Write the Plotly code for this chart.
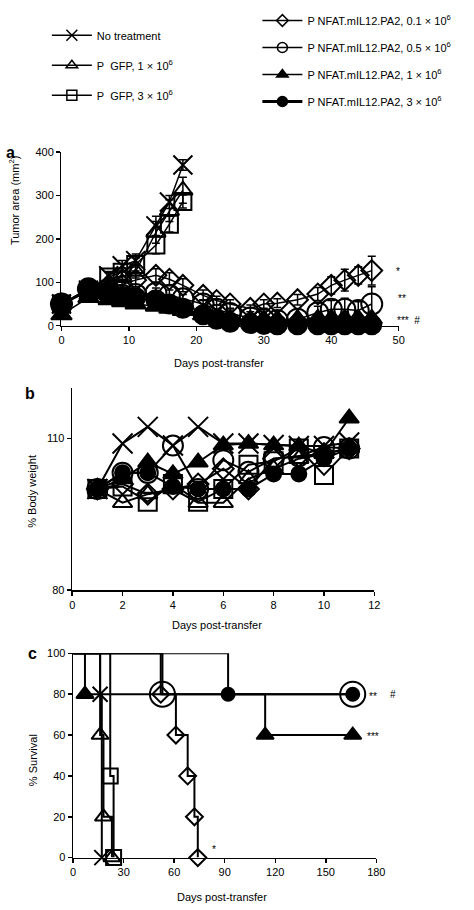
import plotly.graph_objects as go

W, H = 474, 910
FONT = "Liberation Sans, Arial, sans-serif"

# ---------------- data ----------------
series_names = [
    "No treatment",
    "P\u00a0 GFP, 1 \u00d7 10<sup>6</sup>",
    "P\u00a0 GFP, 3 \u00d7 10<sup>6</sup>",
    "P NFAT.mIL12.PA2, 0.1 \u00d7 10<sup>6</sup>",
    "P NFAT.mIL12.PA2, 0.5 \u00d7 10<sup>6</sup>",
    "P NFAT.mIL12.PA2, 1 \u00d7 10<sup>6</sup>",
    "P NFAT.mIL12.PA2, 3 \u00d7 10<sup>6</sup>",
]

# Panel a: tumor area (mm^2)
days_a = [0, 4, 7, 9, 11, 14, 16, 18, 21, 23, 25, 28, 30, 32, 35, 38, 40, 42, 44, 46]
none_a = [50, 82, 115, 138, 150, 230, 285, 370]
none_err = [5, 8, 10, 12, 15, 22, 15, 12]
gfp1_a = [48, 80, 100, 112, 125, 215, 265, 312]
gfp1_err = [5, 8, 10, 12, 15, 25, 25, 30]
gfp3_a = [50, 80, 112, 123, 141, 186, 234, 286]
gfp3_err = [5, 8, 10, 10, 15, 20, 18, 15]
n01_a = [50, 82, 85, 95, 105, 116, 107, 93, 70, 58, 50, 40, 50, 52, 60, 73, 93, 105, 116, 127]
n01_err = [5, 8, 10, 12, 15, 15, 15, 15, 12, 10, 10, 8, 10, 10, 12, 15, 20, 25, 20, 33]
n05_a = [50, 85, 75, 70, 72, 75, 70, 62, 50, 38, 28, 18, 14, 12, 15, 30, 38, 38, 35, 50]
n05_err = [5, 8, 10, 10, 10, 12, 12, 10, 10, 10, 8, 8, 6, 6, 8, 15, 20, 25, 20, 40]
n1_a = [25, 65, 60, 55, 50, 45, 40, 35, 25, 18, 15, 14, 14, 14, 15, 16, 16, 16, 16, 16]
n1_err = [5, 8, 8, 8, 8, 8, 8, 8, 6, 5, 5, 5, 5, 5, 5, 5, 5, 5, 5, 5]
n3_a = [50, 85, 72, 68, 65, 60, 50, 40, 25, 15, 8, 5, 3, 2, 2, 2, 2, 2, 2, 2]
n3_err = [5, 8, 8, 8, 8, 8, 8, 6, 5, 4, 3, 2, 2, 1, 1, 1, 1, 1, 1, 1]

# Panel b: % body weight
days_b = [1, 2, 3, 4, 5, 6, 7, 8, 9, 10, 11]
none_b = [100, 109, 112.3, 108.6, 112.3, 109, 109, 108.7, 108.5, 108.5, 109.2]
gfp1_b = [100, 97.3, 99, 100, 97.3, 97.3, 102, 104, 106, 107, 108]
gfp3_b = [100, 100.5, 97.5, 101, 97.5, 100, 104.8, 105.5, 108, 102.8, 108]
n01_b = [100, 101, 99, 100, 101, 104, 100, 106, 106.5, 107, 108]
n05_b = [100, 103.2, 103.2, 108.6, 100, 105.7, 103.4, 106, 106.5, 108.3, 108]
n1_b = [100, 102, 105.3, 103, 105.3, 108.7, 109, 108.7, 108.5, 107, 114]
n3_b = [100, 103.2, 103.2, 100.5, 100, 100, 100, 103, 103, 106, 108]

# Panel c: % survival (Kaplan-Meier steps; first point is start)
none_t, none_s = [0, 16, 17], [100, 80, 0]
gfp1_t, gfp1_s = [0, 16, 18, 23], [100, 60, 20, 0]
gfp3_t, gfp3_s = [0, 22, 24], [100, 40, 0]
n01_t, n01_s = [0, 52, 61, 68, 72, 74], [100, 80, 60, 40, 20, 0]
n05_t, n05_s = [0, 53, 166], [100, 80, 80]
n1_t, n1_s = [0, 7, 114, 166], [100, 80, 60, 60]
n3_t, n3_s = [0, 92, 166], [100, 80, 80]

# ---------------- styles ----------------
symbols = ["x-thin", "triangle-up-open", "square-open", "diamond-open",
           "circle-open", "triangle-up", "circle"]


def mk(sym, size):
    return dict(symbol=sym, size=size, color="black",
                line=dict(color="black", width=2))


fig = go.Figure()

# ---------------- panel a ----------------
a_y = [none_a, gfp1_a, gfp3_a, n01_a, n05_a, n1_a, n3_a]
a_e = [none_err, gfp1_err, gfp3_err, n01_err, n05_err, n1_err, n3_err]
a_sizes = [19, 17, 17, 16, 21, 18, 19]
for i in range(7):
    n = len(a_y[i])
    fig.add_trace(go.Scatter(
        x=days_a[:n], y=a_y[i], mode="lines+markers",
        line=dict(color="black", width=1.5),
        marker=mk(symbols[i], a_sizes[i]),
        error_y=dict(type="data", array=a_e[i], color="black", thickness=1.5, width=4),
        cliponaxis=False, showlegend=False, xaxis="x", yaxis="y"))

# ---------------- panel b ----------------
b_y = [none_b, gfp1_b, gfp3_b, n01_b, n05_b, n1_b, n3_b]
b_sizes = [20, 17, 18, 16, 20, 17, 15]
for i in range(7):
    fig.add_trace(go.Scatter(
        x=days_b, y=b_y[i], mode="lines+markers",
        line=dict(color="black", width=2),
        marker=mk(symbols[i], b_sizes[i]),
        cliponaxis=False, showlegend=False, xaxis="x2", yaxis="y2"))

# ---------------- panel c ----------------
c_t = [none_t, gfp1_t, gfp3_t, n01_t, n05_t, n1_t, n3_t]
c_s = [none_s, gfp1_s, gfp3_s, n01_s, n05_s, n1_s, n3_s]
c_sizes = [15, 15, 15, 13, 25, 15, 13]
for i in range(7):
    fig.add_trace(go.Scatter(
        x=c_t[i], y=c_s[i], mode="lines", line=dict(color="black", width=2, shape="hv"),
        cliponaxis=False, showlegend=False, xaxis="x3", yaxis="y3"))
for i in range(7):
    fig.add_trace(go.Scatter(
        x=c_t[i][1:], y=c_s[i][1:], mode="markers",
        marker=mk(symbols[i], c_sizes[i]),
        cliponaxis=False, showlegend=False, xaxis="x3", yaxis="y3"))

# ---------------- legend-only traces ----------------
leg_sizes = [11, 10, 10, 9, 10, 10, 10]
for i in range(7):
    fig.add_trace(go.Scatter(
        x=[None], y=[None], mode="lines+markers", name=series_names[i],
        line=dict(color="black", width=3 if i == 6 else 1.5),
        marker=dict(symbol=symbols[i], size=leg_sizes[i], color="black",
                    line=dict(color="black", width=1.5)),
        legend="legend" if i < 3 else "legend2",
        legendgroup=f"g{i}", xaxis="x", yaxis="y"))


def px(x):
    return x / W


def py(y):
    return 1 - y / H


axis_common = dict(showline=True, linecolor="black", linewidth=1.5, ticks="outside",
                   ticklen=4, tickwidth=1.5, tickcolor="black", showgrid=False,
                   zeroline=False, tickfont=dict(family=FONT, size=11, color="black"))

fig.update_layout(
    width=W, height=H, margin=dict(l=0, r=0, t=0, b=0),
    paper_bgcolor="white", plot_bgcolor="white",
    font=dict(family=FONT, size=11, color="black"),
    hovermode=False,
    xaxis=dict(domain=[px(60), px(406)], range=[0, 50], tickvals=[0, 10, 20, 30, 40, 50],
               anchor="y", **axis_common),
    yaxis=dict(domain=[py(324), py(148)], range=[0, 400], tickvals=[0, 100, 200, 300, 400],
               anchor="x", **axis_common),
    xaxis2=dict(domain=[px(71), px(381)], range=[0, 12], tickvals=[0, 2, 4, 6, 8, 10, 12],
                anchor="y2", **axis_common),
    yaxis2=dict(domain=[py(592), py(387)], range=[80, 120], tickvals=[80, 110],
                anchor="x2", **axis_common),
    xaxis3=dict(domain=[px(72), px(383)], range=[0, 180], tickvals=[0, 30, 60, 90, 120, 150, 180],
                anchor="y3", **axis_common),
    yaxis3=dict(domain=[py(863), py(656)], range=[0, 100], tickvals=[0, 20, 40, 60, 80, 100],
                anchor="x3", **axis_common),
    legend=dict(x=px(45), y=py(15), xanchor="left", yanchor="top", bgcolor="rgba(0,0,0,0)",
                font=dict(family=FONT, size=11, color="black"), tracegroupgap=11,
                itemwidth=40, traceorder="grouped"),
    legend2=dict(x=px(261), y=py(0), xanchor="left", yanchor="top", bgcolor="rgba(0,0,0,0)",
                 font=dict(family=FONT, size=11, color="black"), tracegroupgap=8,
                 itemwidth=40, traceorder="grouped"),
)

annots = [
    ("<b>a</b>", 8, 148, 16, "center"),
    ("<b>b</b>", 28, 393, 16, "center"),
    ("<b>c</b>", 30, 656, 16, "center"),
    ("Days post-transfer", 222, 362, 11, "center"),
    ("Days post-transfer", 220, 627, 11, "center"),
    ("Days post-transfer", 225, 903, 11, "center"),
    ("*", 405, 269, 10, "center"),
    ("**", 409, 296, 10, "center"),
    ("***  #", 402, 319, 10, "left"),
    ("**", 380, 700, 10, "center"),
    ("#", 400, 698, 10, "center"),
    ("***", 380, 740, 10, "center"),
    ("*", 216, 855, 10, "center"),
]
for txt, x, y, sz, anc in annots:
    fig.add_annotation(text=txt, x=px(x), y=py(y), xref="paper", yref="paper",
                       xanchor=anc, yanchor="middle", showarrow=False,
                       font=dict(family=FONT, size=sz, color="black"))

for txt, x, y in [("Tumor area (mm<sup>2</sup>)", 12, 197), ("% Body weight", 29, 492),
                  ("% Survival", 31, 764)]:
    fig.add_annotation(text=txt, x=px(x), y=py(y), xref="paper", yref="paper",
                       xanchor="center", yanchor="middle", showarrow=False, textangle=-90,
                       font=dict(family=FONT, size=11, color="black"))

fig.write_html("out.html", config={"displayModeBar": False, "staticPlot": True},
               post_script="document.body.style.margin='0';document.body.style.overflow='hidden';")
